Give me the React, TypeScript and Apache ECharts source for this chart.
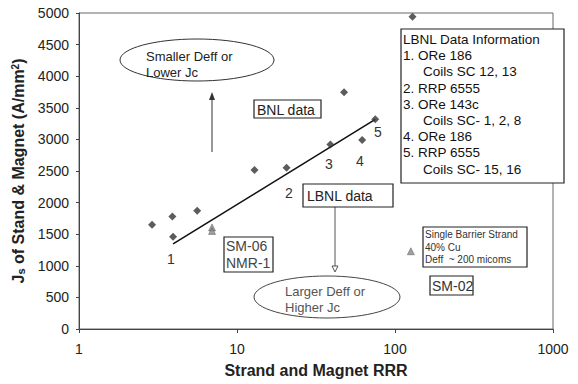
import React, { useEffect, useRef } from "react";
import * as echarts from "echarts";

const FONT = "'Liberation Sans', Arial, sans-serif";

// BNL data (diamonds)
const bnlPoints: [number, number][] = [
  [2.9, 1650],
  [3.9, 1780],
  [5.6, 1870],
  [12.9, 2515],
  [47.6, 3745],
  [129, 4940],
];
// LBNL data (diamonds, labelled 1..5)
const lbnlPoints: [number, number][] = [
  [3.94, 1460],
  [20.6, 2550],
  [39, 2920],
  [62, 2990],
  [75, 3320],
];
// Single barrier / SM strands (triangles)
const smPoints: [number, number][] = [
  [6.95, 1607],
  [6.95, 1552],
  [126, 1230],
];
// Trend line through LBNL data
const trendLine: [number, number][] = [
  [3.94, 1347],
  [75, 3316],
];
const yTicks = { min: 0, max: 5000, interval: 500 };
const xRange = { min: 1, max: 1000 };

const infoLines: { t: string; indent: boolean }[] = [
  { t: "LBNL Data Information", indent: false },
  { t: "1. ORe 186", indent: false },
  { t: "Coils SC 12, 13", indent: true },
  { t: "2. RRP 6555", indent: false },
  { t: "3. ORe 143c", indent: false },
  { t: "Coils SC- 1, 2, 8", indent: true },
  { t: "4. ORe 186", indent: false },
  { t: "5. RRP 6555", indent: false },
  { t: "Coils SC- 15, 16", indent: true },
];

const numberLabels: { t: string; x: number; y: number }[] = [
  { t: "1", x: 171, y: 259 },
  { t: "2", x: 289, y: 193 },
  { t: "3", x: 329, y: 164 },
  { t: "4", x: 360, y: 161 },
  { t: "5", x: 378, y: 132 },
];

function txt(text: string, x: number, y: number, size: number, color = "#222", align = "left") {
  return {
    type: "text",
    x,
    y,
    z: 20,
    style: {
      text,
      fontSize: size,
      fontFamily: FONT,
      fill: color,
      align,
      verticalAlign: "middle",
    },
  };
}

function box(x1: number, y1: number, x2: number, y2: number) {
  return {
    type: "rect",
    z: 15,
    shape: { x: x1, y: y1, width: x2 - x1, height: y2 - y1 },
    style: { fill: "#fff", stroke: "#222", lineWidth: 1.2 },
  };
}

export default function App() {
  const ref = useRef<HTMLDivElement>(null);
  useEffect(() => {
    document.body.style.margin = "0";
    if (!ref.current) return;
    const chart = echarts.init(ref.current, null, { renderer: "svg" });

    const graphics: any[] = [];
    // ellipse 1
    graphics.push({
      type: "ellipse",
      z: 15,
      shape: { cx: 197, cy: 60, rx: 77, ry: 21 },
      style: { fill: "#fff", stroke: "#333", lineWidth: 1 },
    });
    graphics.push(txt("Smaller Deff or", 146, 56, 13, "#222"));
    graphics.push(txt("Lower Jc", 146, 72, 13, "#222"));
    // ellipse 2
    graphics.push({
      type: "ellipse",
      z: 15,
      shape: { cx: 327, cy: 297, rx: 73, ry: 21 },
      style: { fill: "#fff", stroke: "#444", lineWidth: 1 },
    });
    graphics.push(txt("Larger Deff or", 285, 291, 13, "#555"));
    graphics.push(txt("Higher Jc", 285, 307, 13, "#555"));
    // up arrow
    graphics.push({
      type: "line",
      z: 15,
      shape: { x1: 212, y1: 152, x2: 212, y2: 98 },
      style: { stroke: "#333", lineWidth: 1 },
    });
    graphics.push({
      type: "polygon",
      z: 15,
      shape: { points: [[212, 92], [209, 100], [215, 100]] },
      style: { fill: "#333" },
    });
    // down arrow
    graphics.push({
      type: "line",
      z: 15,
      shape: { x1: 335, y1: 207, x2: 335, y2: 267 },
      style: { stroke: "#555", lineWidth: 1 },
    });
    graphics.push({
      type: "polygon",
      z: 15,
      shape: { points: [[332, 266], [338, 266], [335, 272]] },
      style: { fill: "#fff", stroke: "#555", lineWidth: 1 },
    });
    // BNL data box
    graphics.push(box(254, 100, 321, 118));
    graphics.push(txt("BNL data", 257, 109.5, 14));
    // LBNL data box
    graphics.push(box(303, 184, 393, 207));
    graphics.push(txt("LBNL data", 307, 195.5, 14));
    // SM-06 box
    graphics.push(box(224, 237, 273, 272));
    graphics.push(txt("SM-06", 226, 246, 14, "#444"));
    graphics.push(txt("NMR-1", 226, 263, 14, "#444"));
    // Single barrier box
    graphics.push(box(423, 227, 527, 267));
    graphics.push(txt("Single Barrier Strand", 425, 234, 10, "#333"));
    graphics.push(txt("40% Cu", 425, 247, 10, "#333"));
    graphics.push(txt("Deff  ~ 200 micoms", 425, 259.5, 10, "#333"));
    // SM-02 box
    graphics.push(box(430, 276, 473, 295));
    graphics.push(txt("SM-02", 432, 286, 14, "#333"));
    // Info box
    graphics.push(box(401, 29, 564, 183));
    infoLines.forEach((l, i) => {
      graphics.push(txt(l.t, l.indent ? 423 : 403, 39.5 + i * 16.2, 13.5, "#111"));
    });
    // number labels
    numberLabels.forEach((n) => {
      graphics.push(txt(n.t, n.x, n.y, 14, "#333", "center"));
    });

    const option: any = {
      animation: false,
      backgroundColor: "#fff",
      grid: {
        left: 79,
        right: 25,
        top: 13,
        bottom: 55,
        show: true,
        borderColor: "#666",
        borderWidth: 1,
        backgroundColor: "transparent",
      },
      xAxis: {
        type: "log",
        logBase: 10,
        min: xRange.min,
        max: xRange.max,
        name: "Strand and Magnet RRR",
        nameLocation: "middle",
        nameGap: 33,
        nameTextStyle: { fontFamily: FONT, fontSize: 16, fontWeight: "bold", color: "#222" },
        axisLine: { lineStyle: { color: "#444", width: 1 } },
        axisTick: { show: true, length: 4, lineStyle: { color: "#444" } },
        minorTick: { show: false },
        splitLine: { show: false },
        axisLabel: {
          fontFamily: FONT,
          fontSize: 14,
          color: "#222",
          margin: 13,
          formatter: (v: number) => String(Math.round(v)),
        },
      },
      yAxis: {
        type: "value",
        min: yTicks.min,
        max: yTicks.max,
        interval: yTicks.interval,
        name: "{b|J}{s|s}{b| of Stand & Magnet (A/mm}{p|2}{b|)}",
        nameLocation: "middle",
        nameGap: 45,
        nameTextStyle: {
          fontFamily: FONT,
          fontSize: 16,
          fontWeight: "bold",
          color: "#222",
          rich: {
            b: { fontFamily: FONT, fontSize: 16, fontWeight: "bold", color: "#222" },
            s: { fontFamily: FONT, fontSize: 11, fontWeight: "bold", color: "#222", verticalAlign: "bottom" },
            p: { fontFamily: FONT, fontSize: 10, fontWeight: "bold", color: "#222", verticalAlign: "top" },
          },
        },
        axisLine: { show: true, lineStyle: { color: "#444", width: 1 } },
        axisTick: { show: true, length: 3, lineStyle: { color: "#444" } },
        splitLine: { show: false },
        axisLabel: {
          fontFamily: FONT,
          fontSize: 14,
          color: "#222",
          margin: 10,
          formatter: (v: number) => String(v),
        },
      },
      series: [
        {
          name: "Trend",
          type: "line",
          data: trendLine,
          showSymbol: false,
          symbol: "none",
          lineStyle: { color: "#111", width: 1.6 },
          z: 5,
        },
        {
          name: "BNL data",
          type: "scatter",
          data: bnlPoints,
          symbol: "diamond",
          symbolSize: 8,
          itemStyle: { color: "#333" },
          z: 10,
        },
        {
          name: "LBNL data",
          type: "scatter",
          data: lbnlPoints,
          symbol: "diamond",
          symbolSize: 8,
          itemStyle: { color: "#333" },
          z: 10,
        },
        {
          name: "SM strands",
          type: "scatter",
          data: smPoints,
          symbol: "triangle",
          symbolSize: 7,
          itemStyle: { color: "#888", borderColor: "#555", borderWidth: 0.6 },
          z: 10,
        },
      ],
      graphic: graphics,
    };
    chart.setOption(option);
    return () => chart.dispose();
  }, []);
  return <div ref={ref} style={{ width: 578, height: 384 }} />;
}
